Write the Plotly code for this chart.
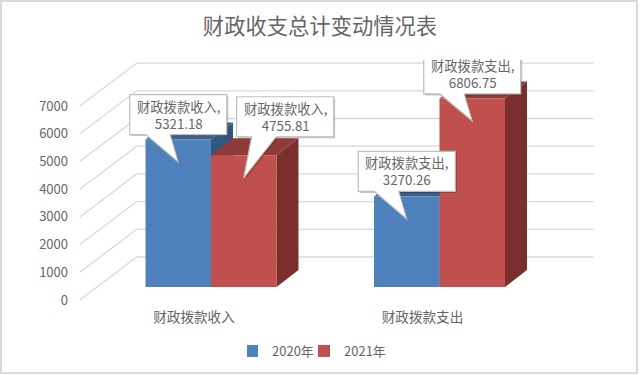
import plotly.graph_objects as go

categories = ["财政拨款收入", "财政拨款支出"]
series_names = ["2020年", "2021年"]
values_2020 = [5321.18, 3270.26]
values_2021 = [4755.81, 6806.75]
y_ticks = [0, 1000, 2000, 3000, 4000, 5000, 6000, 7000]
title = "财政收支总计变动情况表"

FONT = "Noto Sans CJK SC"
TXT = "#666666"
FRONT = ["#4F81BD", "#C0504D"]
TOP = ["#3A5F8C", "#8F3B39"]
SIDE = ["#315680", "#7A2F2D"]
GRID = "#D9D9D9"

# scale of the chart
PX_CAT = 228.5
PX_VAL = 0.0277
L, R, T, B = 78, 595, 60, 302
ZERO_X, ZERO_Y = 211, 287
BAR_W = 0.2866


def dx(p):
    return p / PX_CAT


def dy(p):
    return p / PX_VAL


shapes = []
# perspective grid: front-left edge to back wall, then along the back wall
for v in y_ticks:
    fx, fy = -0.5 - dx(17), v - dy(13)
    bx, by = -0.5 + dx(40), v + dy(30)
    ex = 1.5 + dx(40)
    shapes.append(dict(type="path", layer="below", xref="x", yref="y",
                       path=f"M{fx},{fy} L{bx},{by} L{ex},{by}",
                       line=dict(color=GRID, width=1.3)))


def poly(points, fill):
    path = "M" + " L".join(f"{x},{y}" for x, y in points) + " Z"
    return dict(type="path", layer="below", xref="x", yref="y", path=path,
                fillcolor=fill, line=dict(width=0))


series = [values_2020, values_2021]
for j, vals in enumerate(series):
    for i, v in enumerate(vals):
        x0 = i + (j - 1) * BAR_W
        x1 = x0 + BAR_W
        ox, oy = dx(22), dy(17)
        shapes.append(poly([(x1, 0), (x1 + ox, oy), (x1 + ox, v + oy), (x1, v)], SIDE[j]))
        shapes.append(poly([(x0, v), (x0 + ox, v + oy), (x1 + ox, v + oy), (x1, v)], TOP[j]))

# callout placement: horizontal offset of box centre from the tip, gap of box above tip
callouts = [
    (0, 0, 0, 27.5, 16),
    (0, 1, 41.4, 41, 15),
    (1, 0, 0, 27.5, 16),
    (1, 1, 0, 27, 16),
]
BOX_W, BOX_H = 97, 40
annotations = []
callout_shapes = []
for i, j, off, gap, wedge in callouts:
    v = series[j][i]
    tx = i + (j - 0.5) * BAR_W
    ty = v - dy(22.5)
    cx = tx + dx(off)
    left, right = cx - dx(BOX_W / 2), cx + dx(BOX_W / 2)
    bot, top = ty + dy(gap), ty + dy(gap + BOX_H)
    pts = [(left, bot), (left + dx(wedge), bot), (tx, ty), (left + dx(wedge + 24.5), bot),
           (right, bot), (right, top), (left, top)]
    sh = [(x + dx(1.5), y - dy(1.5)) for x, y in pts]
    s = poly(sh, "rgba(0,0,0,0.22)")
    s["layer"] = "above"
    callout_shapes.append(s)
    c = poly(pts, "white")
    c["layer"] = "above"
    c["line"] = dict(color="#BFBFBF", width=1.2)
    callout_shapes.append(c)
    annotations.append(dict(x=cx, y=(bot + top) / 2, xref="x", yref="y", showarrow=False,
                            text=f"{categories[i]},<br>{v:.2f}", align="center",
                            font=dict(family=FONT, size=13.3, color=TXT)))
shapes += callout_shapes

# chart frame
shapes.append(dict(type="rect", xref="paper", yref="paper", layer="below",
                   x0=(1 - L) / (R - L), x1=(637 - L) / (R - L),
                   y0=(B - 373) / (B - T), y1=(B - 1) / (B - T),
                   line=dict(color=GRID, width=2), fillcolor="rgba(0,0,0,0)"))

fig = go.Figure()
for j, vals in enumerate(series):
    fig.add_trace(go.Bar(x=categories, y=vals, name=series_names[j],
                         marker=dict(color=FRONT[j], line=dict(width=0))))

fig.update_layout(
    width=640, height=375,
    margin=dict(l=L, r=640 - R, t=T, b=375 - B, autoexpand=False),
    paper_bgcolor="white", plot_bgcolor="rgba(0,0,0,0)",
    barmode="group", bargap=1 - 2 * BAR_W, bargroupgap=0,
    title=dict(text=title, x=0.5, xref="container", xanchor="center", y=1 - 27 / 375,
               yanchor="middle", font=dict(family=FONT, size=21.3, color=TXT)),
    xaxis=dict(type="category", categoryorder="array", categoryarray=categories,
               range=[(L - ZERO_X) / PX_CAT, (R - ZERO_X) / PX_CAT],
               showgrid=False, zeroline=False, showline=False, ticks="",
               ticklabelshift=-17, ticklabelstandoff=5,
               tickfont=dict(family=FONT, size=13.6, color=TXT)),
    yaxis=dict(range=[(ZERO_Y - B) / PX_VAL, (ZERO_Y - T) / PX_VAL],
               tickmode="array", tickvals=y_ticks,
               showgrid=False, zeroline=False, showline=False, ticks="",
               ticklabelshift=13, ticklabelstandoff=9,
               tickfont=dict(family=FONT, size=13, color=TXT)),
    legend=dict(orientation="h", x=247 / 640, xref="container", xanchor="left",
                y=1 - 351 / 375, yref="container", yanchor="middle",
                indentation=-15, entrywidth=42,
                font=dict(family=FONT, size=13, color=TXT), itemclick=False),
    shapes=shapes, annotations=annotations,
)

fig.write_html("out.html", config={"displayModeBar": False},
               post_script="document.body.style.margin='0';")
